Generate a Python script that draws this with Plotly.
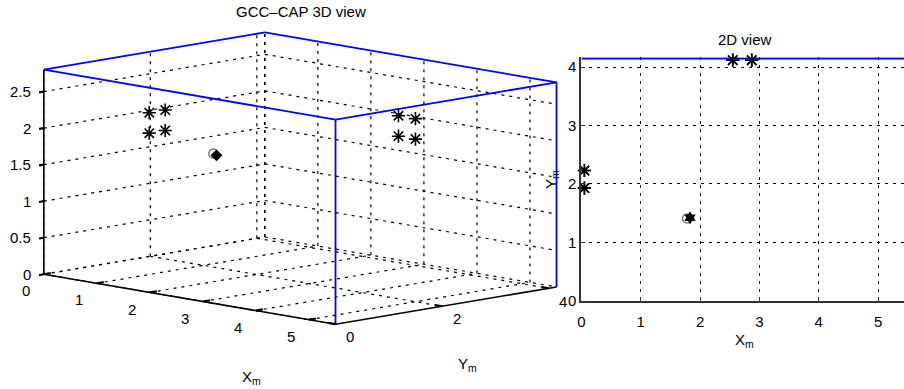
import plotly.graph_objects as go

# ---------------------------------------------------------------
# Room geometry (metres)
ROOM_L = 5.5    # X extent
ROOM_W = 4.15   # Y extent
ROOM_H = 2.8    # Z extent

# Microphone positions (two arrays of four, each at two heights)
mic_x = [0.05, 0.05, 0.05, 0.05, 2.55, 2.87, 2.55, 2.87]
mic_y = [1.93, 2.23, 1.93, 2.23, 4.12, 4.12, 4.12, 4.12]
mic_z = [1.98, 1.98, 1.70, 1.70, 1.98, 1.98, 1.70, 1.70]

# True and estimated source position
src_x, src_y, src_z = [1.83], [1.42], [1.68]
est_x, est_y, est_z = [1.78], [1.41], [1.70]

# Tick values / labels
x_ticks = [0, 1, 2, 3, 4, 5]
y_ticks_3d = [0, 2, 4]
z_ticks = [0, 0.5, 1, 1.5, 2, 2.5]
z_tick_text = ["0", "0.5", "1", "1.5", "2", "2.5"]
x_ticks_2d = [0, 1, 2, 3, 4, 5]
y_ticks_2d = [0, 1, 2, 3, 4]

# ---------------------------------------------------------------
# Fixed oblique view of the 3D box onto a screen-unit canvas
FIG_W, FIG_H = 904, 389
VIEW_ORIGIN = (40.0, 280.0)
VIEW_EX = (53.27, 9.27)
VIEW_EY = (53.49, -9.16)
VIEW_EZ = (0.0, -74.6)

FONT = "Liberation Sans"
TICK_SIZE = 15
GRID_DASH = "3px,5px"
BLUE = "#0000ff"
GREY = "#777777"


def proj(x, y, z):
    u = VIEW_ORIGIN[0] + x * VIEW_EX[0] + y * VIEW_EY[0] + z * VIEW_EZ[0]
    v = VIEW_ORIGIN[1] + x * VIEW_EX[1] + y * VIEW_EY[1] + z * VIEW_EZ[1]
    return u, v


def seg_trace(segments, **line):
    xs, ys = [], []
    for p, q in segments:
        u0, v0 = proj(*p)
        u1, v1 = proj(*q)
        xs += [u0, u1, None]
        ys += [v0, v1, None]
    return go.Scatter(x=xs, y=ys, mode="lines", line=line, hoverinfo="skip",
                      showlegend=False, xaxis="x", yaxis="y")


def star_marker():
    return dict(symbol="asterisk-open", size=11, color="black",
                line=dict(color="black", width=1.6))


L, W, H = ROOM_L, ROOM_W, ROOM_H
fig = go.Figure()

# --- 3D grid on the two back walls and the floor
grid = []
for zt in z_ticks:
    grid.append(((0, 0, zt), (0, W, zt)))
    grid.append(((0, W, zt), (L, W, zt)))
for yt in y_ticks_3d:
    grid.append(((0, yt, 0), (0, yt, H)))
    grid.append(((0, yt, 0), (L, yt, 0)))
for xt in x_ticks:
    grid.append(((xt, W, 0), (xt, W, H)))
    grid.append(((xt, 0, 0), (xt, W, 0)))
grid.append(((0, W, 0), (0, W, H)))
fig.add_trace(seg_trace(grid, color="black", width=1.2, dash=GRID_DASH))

# --- room outline
room = [
    ((0, 0, H), (L, 0, H)), ((L, 0, H), (L, W, H)),
    ((L, W, H), (0, W, H)), ((0, W, H), (0, 0, H)),
    ((L, 0, 0), (L, 0, H)), ((L, W, 0), (L, W, H)),
]
fig.add_trace(seg_trace(room, color=BLUE, width=1.8))

# --- axis lines and tick marks
axes3d = [((0, 0, 0), (L, 0, 0)), ((L, 0, 0), (L, W, 0)), ((0, 0, 0), (0, 0, H))]
fig.add_trace(seg_trace(axes3d, color="black", width=1.6))
ticks = []
for xt in x_ticks:
    ticks.append(((xt, 0, 0), (xt, 0.13, 0)))
for yt in y_ticks_3d:
    ticks.append(((L, yt, 0), (L - 0.13, yt, 0)))
for zt in z_ticks:
    ticks.append(((0, 0, zt), (0, -0.09, zt)))
fig.add_trace(seg_trace(ticks, color="black", width=2.2))

# --- 3D markers
mu, mv = zip(*[proj(a, b, c) for a, b, c in zip(mic_x, mic_y, mic_z)])
fig.add_trace(go.Scatter(x=mu, y=mv, mode="markers", xaxis="x", yaxis="y",
                         marker=star_marker(), showlegend=False, hoverinfo="skip"))
eu, ev = proj(est_x[0], est_y[0], est_z[0])
fig.add_trace(go.Scatter(x=[eu], y=[ev], mode="markers", xaxis="x", yaxis="y",
                         marker=dict(symbol="circle-open", size=9, color=GREY,
                                     line=dict(color=GREY, width=1.5)),
                         showlegend=False, hoverinfo="skip"))
su, sv = proj(src_x[0], src_y[0], src_z[0])
fig.add_trace(go.Scatter(x=[su], y=[sv], mode="markers", xaxis="x", yaxis="y",
                         marker=dict(symbol="diamond", size=9, color="black"),
                         showlegend=False, hoverinfo="skip"))

# --- 2D (top) view: room walls not lying on the axes
fig.add_trace(go.Scatter(x=[0, L, L], y=[W, W, 0], mode="lines",
                         line=dict(color=BLUE, width=2), xaxis="x2", yaxis="y2",
                         showlegend=False, hoverinfo="skip"))
fig.add_trace(go.Scatter(x=mic_x, y=mic_y, mode="markers", xaxis="x2", yaxis="y2",
                         cliponaxis=False, marker=star_marker(),
                         showlegend=False, hoverinfo="skip"))
fig.add_trace(go.Scatter(x=est_x, y=est_y, mode="markers", xaxis="x2", yaxis="y2",
                         cliponaxis=False,
                         marker=dict(symbol="circle-open", size=9, color=GREY,
                                     line=dict(color=GREY, width=1.5)),
                         showlegend=False, hoverinfo="skip"))
fig.add_trace(go.Scatter(x=src_x, y=src_y, mode="markers", xaxis="x2", yaxis="y2",
                         cliponaxis=False,
                         marker=dict(symbol="hexagram", size=10, color="black"),
                         showlegend=False, hoverinfo="skip"))

# --- text for the 3D box
ann = []


def text(u, v, s, **kw):
    d = dict(x=u, y=v, xref="x", yref="y", text=s, showarrow=False,
             font=dict(family=FONT, size=TICK_SIZE, color="black"))
    d.update(kw)
    ann.append(d)


for zt, zs in zip(z_ticks, z_tick_text):
    u, v = proj(0, 0, zt)
    text(u - 11, v, zs, xanchor="right", yanchor="middle")
for xt in x_ticks:
    u, v = proj(xt, 0, 0)
    text(u - 18, v + 17, str(xt), xanchor="center", yanchor="middle")
for yt in y_ticks_3d:
    u, v = proj(L, yt, 0)
    text(u + 15, v + 13, str(yt), xanchor="center", yanchor="middle")
u, v = proj(L / 2, 0, 0)
text(u + 62, v + 80, "X<sub>m</sub>", xanchor="center", yanchor="middle")
u, v = proj(L, W / 2, 0)
text(u + 22, v + 60, "Y<sub>m</sub>", xanchor="center", yanchor="middle")
text(298, 12, "GCC\u2013CAP 3D view", xanchor="center", yanchor="middle",
     font=dict(family=FONT, size=15, color="black"))

# --- text for the 2D view
ann.append(dict(x=L / 2, y=W, xref="x2", yref="y2", yshift=19, text="2D view",
                showarrow=False, xanchor="center", yanchor="middle",
                font=dict(family=FONT, size=15, color="black")))
ann.append(dict(x=L / 2, y=0, xref="x2", yref="y2", yshift=-40, text="X<sub>m</sub>",
                showarrow=False, xanchor="center", yanchor="middle",
                font=dict(family=FONT, size=TICK_SIZE, color="black")))
ann.append(dict(x=0, y=W / 2, xref="x2", yref="y2", xshift=-30, text="Y<sub>m</sub>",
                textangle=-90, showarrow=False, xanchor="center", yanchor="middle",
                font=dict(family=FONT, size=TICK_SIZE, color="black")))

px_per_unit = 59.6
x2_left = 580
y2_bottom = 307
y2_top_val = 4.17

axis2_style = dict(
    ticks="inside", ticklen=4, tickcolor="#333333",
    showline=True, linecolor="#333333", linewidth=2,
    showgrid=True, gridcolor="black", gridwidth=1, griddash=GRID_DASH,
    zeroline=False, tickfont=dict(family=FONT, size=TICK_SIZE, color="black"),
)

fig.update_layout(
    width=FIG_W, height=FIG_H, autosize=False,
    margin=dict(l=0, r=0, t=0, b=0),
    paper_bgcolor="white", plot_bgcolor="rgba(0,0,0,0)",
    showlegend=False,
    annotations=ann,
    xaxis=dict(domain=[0, 1], range=[0, FIG_W], visible=False, fixedrange=True),
    yaxis=dict(domain=[0, 1], range=[FIG_H, 0], visible=False, fixedrange=True),
    xaxis2=dict(
        domain=[x2_left / FIG_W, 1],
        range=[0, (FIG_W - x2_left) / px_per_unit],
        anchor="y2", tickvals=x_ticks_2d, ticklabelstandoff=6, **axis2_style,
    ),
    yaxis2=dict(
        domain=[(FIG_H - y2_bottom) / FIG_H,
                (FIG_H - (y2_bottom - y2_top_val * px_per_unit)) / FIG_H],
        range=[0, y2_top_val],
        anchor="x2", tickvals=y_ticks_2d, **axis2_style,
    ),
)

fig.write_html("out.html")
